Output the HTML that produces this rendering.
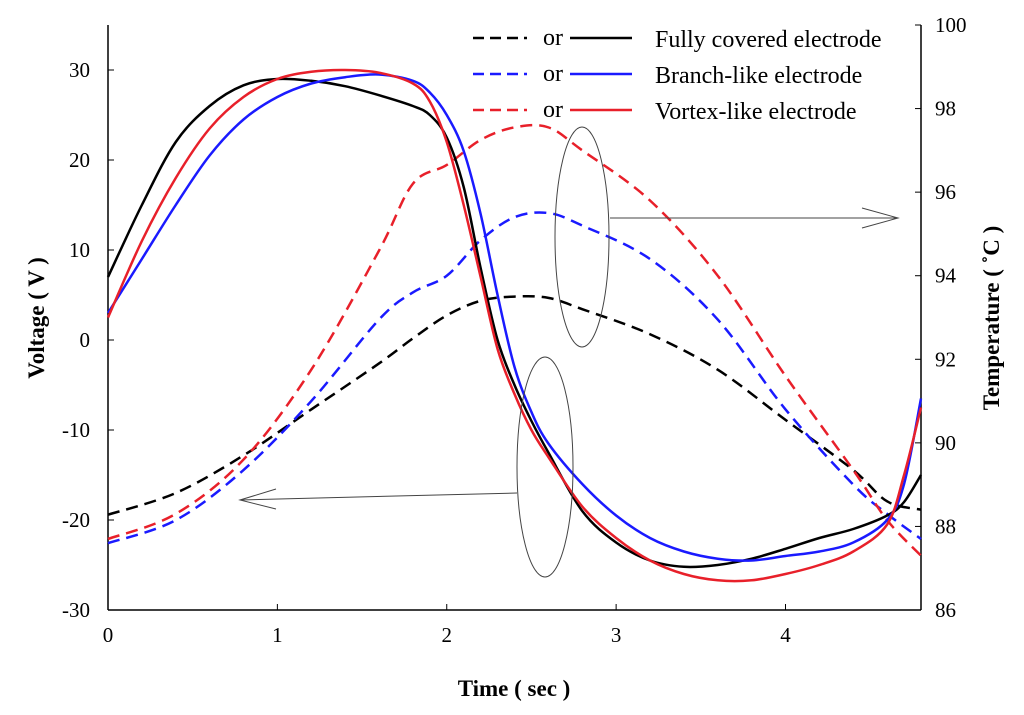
<!DOCTYPE html>
<html><head><meta charset="utf-8"><style>
body{margin:0;background:#fff}
svg{display:block;font-family:"Liberation Serif",serif}
</style></head><body>
<svg id="chart" width="1024" height="715" viewBox="0 0 1024 715" xmlns="http://www.w3.org/2000/svg">
<g id="axes"></g>
<g id="series"></g>
<g fill="none" stroke="#444" stroke-width="1">
<ellipse cx="582" cy="237" rx="27" ry="110"/>
<line x1="610" y1="218" x2="898" y2="218"/>
<polyline points="862,208 898,218 862,228"/>
<ellipse cx="545" cy="467" rx="28" ry="110"/>
<line x1="517" y1="493" x2="240" y2="500"/>
<polyline points="276,489 240,500 276,509"/>
</g>
<g font-size="24">
<line x1="473" y1="38" x2="527" y2="38" stroke="#000" stroke-width="2.5" stroke-dasharray="11,6"/>
<text x="543" y="45">or</text>
<line x1="570" y1="38" x2="632" y2="38" stroke="#000" stroke-width="2.5"/>
<text x="655" y="47">Fully covered electrode</text>
<line x1="473" y1="74" x2="527" y2="74" stroke="#1a1aff" stroke-width="2.5" stroke-dasharray="11,6"/>
<text x="543" y="81">or</text>
<line x1="570" y1="74" x2="632" y2="74" stroke="#1a1aff" stroke-width="2.5"/>
<text x="655" y="83">Branch-like electrode</text>
<line x1="473" y1="110" x2="527" y2="110" stroke="#e8202a" stroke-width="2.5" stroke-dasharray="11,6"/>
<text x="543" y="117">or</text>
<line x1="570" y1="110" x2="632" y2="110" stroke="#e8202a" stroke-width="2.5"/>
<text x="655" y="119">Vortex-like electrode</text>
</g>
</svg>
<script>
const tV=[0,0.2,0.4,0.6,0.8,1.0,1.2,1.4,1.6,1.8,1.9,2.0,2.1,2.2,2.3,2.4,2.5,2.6,2.8,3.0,3.2,3.4,3.6,3.8,4.0,4.2,4.4,4.6,4.7,4.8];
const vBlack=[7,15,22,26,28.3,29,28.8,28.2,27.2,26,25,22.5,17,8,0,-5,-9,-12.5,-19,-22.5,-24.5,-25.2,-25,-24.3,-23.2,-22,-21,-19.5,-18,-15];
const vBlue=[3,9,15,20.5,24.5,27,28.5,29.2,29.5,28.8,27.5,25,21,14,5,-3,-8,-11.5,-16,-19.5,-22,-23.5,-24.3,-24.5,-24,-23.5,-22.5,-20,-16,-6.5];
const vRed=[2.5,11,18,23.5,27,29,29.8,30,29.7,28.5,26.5,22,15,7,-1,-6,-10,-13,-18.5,-22,-24.5,-26,-26.7,-26.7,-26,-25,-23.5,-20.5,-15,-7.5];
const tT=[0,0.4,0.8,1.2,1.6,1.8,2.0,2.2,2.4,2.6,2.8,3.2,3.6,4.0,4.4,4.6,4.8];
const tempBlack=[88.28,88.8,89.7,90.8,91.9,92.5,93.05,93.4,93.5,93.47,93.2,92.6,91.75,90.55,89.35,88.6,88.4];
const tempBlue=[87.6,88.15,89.35,91.0,92.95,93.6,94.0,94.85,95.4,95.5,95.2,94.4,92.95,90.8,89.0,88.3,87.7];
const tempRed=[87.7,88.3,89.6,91.75,94.6,96.2,96.65,97.25,97.55,97.55,97.0,95.8,94.0,91.6,89.35,88.15,87.3];
const xTicks=[0,1,2,3,4];
const yTicks=[-30,-20,-10,0,10,20,30];
const y2Ticks=[86,88,90,92,94,96,98,100];

const X0=108,X1=921,YT=25,YB=610;
const x=t=>X0+t/4.8*(X1-X0);
const yL=v=>YB-(v+30)/65*(YB-YT);
const yR=v=>YB-(v-86)/14*(YB-YT);
const NS='http://www.w3.org/2000/svg';
function mk(tag,attrs,parent,txt){const e=document.createElementNS(NS,tag);for(const k in attrs)e.setAttribute(k,attrs[k]);if(txt!==undefined)e.textContent=txt;parent.appendChild(e);return e;}
const ax=document.getElementById('axes');
let a=mk('line',{x1:X0,y1:YT,x2:X0,y2:YB,stroke:'#000','stroke-width':1.5},ax);

a=mk('line',{x1:X1,y1:YT,x2:X1,y2:YB,stroke:'#000','stroke-width':1.5},ax);

a=mk('line',{x1:X0,y1:YB,x2:X1,y2:YB,stroke:'#000','stroke-width':1.5},ax);

xTicks.forEach(t=>{const l=mk('line',{x1:x(t),y1:YB,x2:x(t),y2:YB-6,stroke:'#000'},ax);

const s=mk('text',{x:x(t),y:YB+32,'text-anchor':'middle','font-size':21},ax,String(t));
});
yTicks.forEach(v=>{const l=mk('line',{x1:X0,y1:yL(v),x2:X0+6,y2:yL(v),stroke:'#000'},ax);

const s=mk('text',{x:X0-18,y:yL(v)+7,'text-anchor':'end','font-size':21},ax,String(v));
});
y2Ticks.forEach(v=>{const l=mk('line',{x1:X1,y1:yR(v),x2:X1-6,y2:yR(v),stroke:'#000'},ax);

const s=mk('text',{x:X1+14,y:yR(v)+7,'font-size':21},ax,String(v));
});
let tt=mk('text',{x:514,y:696,'text-anchor':'middle','font-size':23,'font-weight':'bold'},ax,'Time ( sec )');

tt=mk('text',{x:0,y:0,transform:'translate(44,318) rotate(-90)','text-anchor':'middle','font-size':23,'font-weight':'bold'},ax,'Voltage ( V )');

tt=mk('text',{x:0,y:0,transform:'translate(999,318) rotate(-90)','text-anchor':'middle','font-size':23,'font-weight':'bold'},ax,'Temperature ( ˚C )');


function path(ts,vs,yf){const p=ts.map((t,i)=>[x(t),yf(vs[i])]);let d='M'+p[0][0]+','+p[0][1];
for(let i=0;i<p.length-1;i++){const p0=p[Math.max(0,i-1)],p1=p[i],p2=p[i+1],p3=p[Math.min(p.length-1,i+2)];
d+=' C'+(p1[0]+(p2[0]-p0[0])/6)+','+(p1[1]+(p2[1]-p0[1])/6)+' '+(p2[0]-(p3[0]-p1[0])/6)+','+(p2[1]-(p3[1]-p1[1])/6)+' '+p2[0]+','+p2[1];}return d;}
const sg=document.getElementById('series');
[[tT,tempBlack,'#000','temp-fully-covered'],[tT,tempBlue,'#1a1aff','temp-branch-like'],[tT,tempRed,'#e8202a','temp-vortex-like']].forEach(s=>{
const e=mk('path',{d:path(s[0],s[1],yR),fill:'none',stroke:s[2],'stroke-width':2.5,'stroke-dasharray':'12,7'},sg);
});
[[tV,vBlack,'#000','voltage-fully-covered'],[tV,vBlue,'#1a1aff','voltage-branch-like'],[tV,vRed,'#e8202a','voltage-vortex-like']].forEach(s=>{
const e=mk('path',{d:path(s[0],s[1],yL),fill:'none',stroke:s[2],'stroke-width':2.5},sg);
});
</script>
</body></html>
